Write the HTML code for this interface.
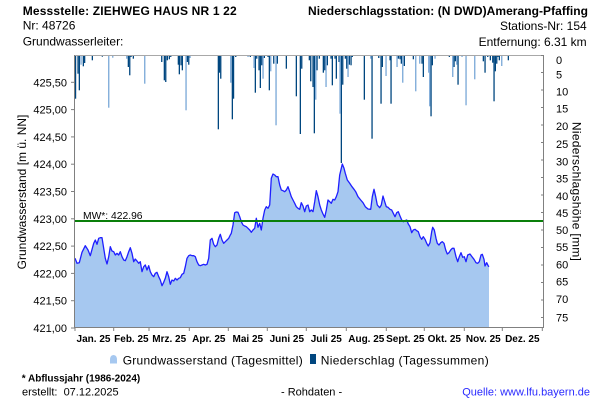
<!DOCTYPE html>
<html><head><meta charset="utf-8">
<style>
html,body{margin:0;padding:0;background:#fff;}
svg{display:block;font-family:"Liberation Sans",Arial,sans-serif;}
</style></head>
<body>
<svg width="600" height="400" viewBox="0 0 600 400" xmlns="http://www.w3.org/2000/svg">
<rect width="600" height="400" fill="#fff"/>
<!-- header -->
<text x="22.7" y="15" font-size="12" font-weight="bold" textLength="214" lengthAdjust="spacing">Messstelle: ZIEHWEG HAUS NR 1 22</text>
<text x="22.7" y="29.3" font-size="12">Nr: 48726</text>
<text x="22.7" y="45.7" font-size="12">Grundwasserleiter:</text>
<text x="308" y="15" font-size="12" font-weight="bold" textLength="280" lengthAdjust="spacing">Niederschlagsstation: (N DWD)Amerang-Pfaffing</text>
<text x="586.7" y="30" font-size="12" text-anchor="end">Stations-Nr: 154</text>
<text x="586.7" y="46" font-size="12" text-anchor="end">Entfernung: 6.31 km</text>

<!-- groundwater area -->
<path fill="#a6c8f0" stroke="none" d="M75,328 L75,258.3 L77,263.3 L79.3,262.7 L82,252.3 L85.3,245.7 L88,250 L90.3,255.7 L93.7,243.3 L95.3,240 L97,244.3 L98.7,238.3 L100.3,237.7 L102,237.7 L103.7,248.3 L105.3,258.3 L107,264 L108.7,256.7 L110.3,246.7 L112,251 L113.7,251.7 L115.3,255 L117,253.3 L118.7,255 L120.3,251.7 L122,256.7 L123.7,260 L125.3,260.7 L127,256.7 L128.7,251.7 L130.3,247.7 L132,253.3 L133.7,261.7 L135.3,259 L137,261 L138.7,263.3 L140.3,261.7 L142,271.7 L143.7,266.7 L145.3,265 L147,270 L148.7,265.7 L150.3,271.7 L152,275 L153.7,276.7 L155.3,273.3 L157,272.3 L158.7,276.7 L160.3,280 L162,285.7 L163.7,282.3 L165.3,278.3 L167,271.7 L168.7,276.7 L170.3,284.3 L172,280 L173.7,281 L175.3,278.3 L177,280 L178.7,278.3 L180.3,277.7 L182,274.3 L183.7,273.3 L185.3,266.7 L187,258.3 L188.7,255.7 L190.3,255 L192,255.7 L193.7,255.7 L195.3,256.7 L197,261.7 L198.7,265 L200.3,265.7 L202,265 L203.7,264.3 L205.3,265 L207,264.3 L208.7,258.3 L210.3,240 L212,238.3 L213.7,244.3 L215.3,246.7 L217,245 L218.7,238.3 L220.3,234.3 L222,240 L223.7,243.3 L225.3,241.7 L227,240 L228.7,238.3 L230.3,235 L231.3,233.3 L233,225 L234.7,212.7 L236.3,212 L238,212.3 L239.7,216.7 L241.3,221.7 L243,225 L244.7,226 L246.3,226.7 L248,228.3 L249.7,230 L251.3,232.3 L253,230 L254.7,228.3 L256.3,218.3 L258,227.3 L259.7,223.3 L261.3,230 L263,218.3 L264.7,210 L266.3,206.7 L268,208.3 L269.7,205 L271.3,178.3 L273,174 L274.7,175 L276.3,176.7 L278,176.7 L279.7,185 L281.3,190 L283,190.7 L284.7,191.7 L286.3,190 L288,186.7 L289.7,191.7 L291.3,196.7 L293,200 L294.7,203.3 L296.3,206.7 L298,208.3 L299.7,209.3 L301.3,202.7 L303,206 L304.7,211.7 L306.3,206 L308,205 L309.7,211.7 L311.3,210 L313,211.7 L314.7,201.7 L316.3,190.7 L318,196.7 L319.7,205 L321.3,210 L323,214 L324.7,217.3 L326.3,210 L328,200 L329.7,201.7 L331.3,203.3 L333,199.3 L334.7,200 L336.3,196.7 L338,191.7 L339.7,175 L341.3,168.3 L342.3,164 L344,168.3 L345.3,173.3 L347.3,180 L349.7,183.3 L352,186.7 L354,189.3 L355.7,191.7 L358,196.7 L360.7,200 L363,202.7 L365.3,206.7 L368,209 L370.7,209.3 L372.3,196.7 L374,189.3 L375.7,196.7 L377.3,205 L379.7,207.7 L381.3,205 L383,196 L384.7,201.7 L386.3,206.7 L388,207.3 L390,209.3 L391.7,210 L393.3,213.3 L395,216.7 L396.7,212.7 L398.3,211.7 L400,216 L401.7,220 L403.3,221.7 L405,220.7 L406.7,220 L408.3,224 L410,226.7 L411.7,232.7 L413.3,230 L415,229.3 L416.7,230.7 L418.3,231.7 L420,236.7 L421.7,239.3 L423.3,236.7 L425,239.3 L426.7,243.3 L428.3,246 L430,242.7 L431.7,231.7 L432.7,227.3 L434.3,230 L436,238.3 L437.3,243.3 L439,245 L440.7,242.7 L442.3,241.7 L444,243.3 L445.7,250 L447.3,254 L449,252.7 L450.7,250 L452.3,248.3 L454,248.3 L456,256.7 L457.7,261.7 L459.3,256.7 L461,252.7 L462.7,257.3 L464.3,256.7 L466,261.7 L467.7,255 L470,254 L472,256.7 L474,259.3 L476,262.7 L477.7,263.3 L479.3,261.7 L481,255 L482.3,254.3 L484,259.3 L485,266 L486.7,262.7 L488.3,266 L489,266.7 L489,328 Z"/>
<path fill="none" stroke="#1f1fff" stroke-width="1.3" stroke-linejoin="round" d="M75,258.3 L77,263.3 L79.3,262.7 L82,252.3 L85.3,245.7 L88,250 L90.3,255.7 L93.7,243.3 L95.3,240 L97,244.3 L98.7,238.3 L100.3,237.7 L102,237.7 L103.7,248.3 L105.3,258.3 L107,264 L108.7,256.7 L110.3,246.7 L112,251 L113.7,251.7 L115.3,255 L117,253.3 L118.7,255 L120.3,251.7 L122,256.7 L123.7,260 L125.3,260.7 L127,256.7 L128.7,251.7 L130.3,247.7 L132,253.3 L133.7,261.7 L135.3,259 L137,261 L138.7,263.3 L140.3,261.7 L142,271.7 L143.7,266.7 L145.3,265 L147,270 L148.7,265.7 L150.3,271.7 L152,275 L153.7,276.7 L155.3,273.3 L157,272.3 L158.7,276.7 L160.3,280 L162,285.7 L163.7,282.3 L165.3,278.3 L167,271.7 L168.7,276.7 L170.3,284.3 L172,280 L173.7,281 L175.3,278.3 L177,280 L178.7,278.3 L180.3,277.7 L182,274.3 L183.7,273.3 L185.3,266.7 L187,258.3 L188.7,255.7 L190.3,255 L192,255.7 L193.7,255.7 L195.3,256.7 L197,261.7 L198.7,265 L200.3,265.7 L202,265 L203.7,264.3 L205.3,265 L207,264.3 L208.7,258.3 L210.3,240 L212,238.3 L213.7,244.3 L215.3,246.7 L217,245 L218.7,238.3 L220.3,234.3 L222,240 L223.7,243.3 L225.3,241.7 L227,240 L228.7,238.3 L230.3,235 L231.3,233.3 L233,225 L234.7,212.7 L236.3,212 L238,212.3 L239.7,216.7 L241.3,221.7 L243,225 L244.7,226 L246.3,226.7 L248,228.3 L249.7,230 L251.3,232.3 L253,230 L254.7,228.3 L256.3,218.3 L258,227.3 L259.7,223.3 L261.3,230 L263,218.3 L264.7,210 L266.3,206.7 L268,208.3 L269.7,205 L271.3,178.3 L273,174 L274.7,175 L276.3,176.7 L278,176.7 L279.7,185 L281.3,190 L283,190.7 L284.7,191.7 L286.3,190 L288,186.7 L289.7,191.7 L291.3,196.7 L293,200 L294.7,203.3 L296.3,206.7 L298,208.3 L299.7,209.3 L301.3,202.7 L303,206 L304.7,211.7 L306.3,206 L308,205 L309.7,211.7 L311.3,210 L313,211.7 L314.7,201.7 L316.3,190.7 L318,196.7 L319.7,205 L321.3,210 L323,214 L324.7,217.3 L326.3,210 L328,200 L329.7,201.7 L331.3,203.3 L333,199.3 L334.7,200 L336.3,196.7 L338,191.7 L339.7,175 L341.3,168.3 L342.3,164 L344,168.3 L345.3,173.3 L347.3,180 L349.7,183.3 L352,186.7 L354,189.3 L355.7,191.7 L358,196.7 L360.7,200 L363,202.7 L365.3,206.7 L368,209 L370.7,209.3 L372.3,196.7 L374,189.3 L375.7,196.7 L377.3,205 L379.7,207.7 L381.3,205 L383,196 L384.7,201.7 L386.3,206.7 L388,207.3 L390,209.3 L391.7,210 L393.3,213.3 L395,216.7 L396.7,212.7 L398.3,211.7 L400,216 L401.7,220 L403.3,221.7 L405,220.7 L406.7,220 L408.3,224 L410,226.7 L411.7,232.7 L413.3,230 L415,229.3 L416.7,230.7 L418.3,231.7 L420,236.7 L421.7,239.3 L423.3,236.7 L425,239.3 L426.7,243.3 L428.3,246 L430,242.7 L431.7,231.7 L432.7,227.3 L434.3,230 L436,238.3 L437.3,243.3 L439,245 L440.7,242.7 L442.3,241.7 L444,243.3 L445.7,250 L447.3,254 L449,252.7 L450.7,250 L452.3,248.3 L454,248.3 L456,256.7 L457.7,261.7 L459.3,256.7 L461,252.7 L462.7,257.3 L464.3,256.7 L466,261.7 L467.7,255 L470,254 L472,256.7 L474,259.3 L476,262.7 L477.7,263.3 L479.3,261.7 L481,255 L482.3,254.3 L484,259.3 L485,266 L486.7,262.7 L488.3,266 L489,266.7"/>

<!-- mean line -->
<line x1="75" y1="221" x2="544" y2="221" stroke="#0a7f0a" stroke-width="2"/>
<text x="83" y="219" font-size="10.3">MW*: 422.96</text>

<!-- precipitation bars -->
<g fill="#00467f">
<rect x="74.8" y="55" width="1.4" height="43.7"/>
<rect x="77.4" y="55" width="1.3" height="18.7"/>
<rect x="78.7" y="55" width="1.3" height="35.3"/>
<rect x="82.7" y="55" width="1.3" height="11.3"/>
<rect x="84" y="55" width="1.3" height="8"/>
<rect x="91.7" y="55" width="1.3" height="5.3"/>
<rect x="101.7" y="55" width="1.3" height="1.7"/>
<rect x="127.7" y="55" width="1.3" height="12"/>
<rect x="129.1" y="55" width="1.3" height="20.3"/>
<rect x="130.4" y="55" width="1.3" height="2"/>
<rect x="132.7" y="55" width="1.3" height="3.7"/>
<rect x="161.1" y="55" width="1.3" height="7"/>
<rect x="163.7" y="55" width="1.3" height="25.3"/>
<rect x="165.1" y="55" width="1.3" height="27"/>
<rect x="166.7" y="55" width="1.3" height="5.3"/>
<rect x="168.7" y="55" width="1.3" height="4.3"/>
<rect x="170.1" y="55" width="1.3" height="2"/>
<rect x="177.7" y="55" width="1.3" height="9.7"/>
<rect x="178.7" y="55" width="1.3" height="19.3"/>
<rect x="180.4" y="55" width="1.3" height="10.3"/>
<rect x="181.7" y="55" width="1.3" height="15.3"/>
<rect x="186.7" y="55" width="1.3" height="7"/>
<rect x="188.1" y="55" width="1.3" height="9.7"/>
<rect x="217.7" y="55" width="1.3" height="74.3"/>
<rect x="218.9" y="55" width="1.3" height="17.7"/>
<rect x="220.1" y="55" width="1.3" height="23.7"/>
<rect x="231.7" y="55" width="1.3" height="64.3"/>
<rect x="232.9" y="55" width="1.3" height="43.7"/>
<rect x="235.1" y="55" width="1.3" height="2"/>
<rect x="249.7" y="55" width="1.3" height="2"/>
<rect x="254.7" y="55" width="1.3" height="37.7"/>
<rect x="256.1" y="55" width="1.3" height="3.7"/>
<rect x="258.4" y="55" width="1.3" height="15.3"/>
<rect x="259.7" y="55" width="1.3" height="33"/>
<rect x="261.1" y="55" width="1.3" height="10.3"/>
<rect x="263.7" y="55" width="1.3" height="3"/>
<rect x="267.4" y="55" width="1.3" height="2"/>
<rect x="268.7" y="55" width="1.3" height="35.3"/>
<rect x="273.1" y="55" width="1.3" height="8.7"/>
<rect x="276.7" y="55" width="1.3" height="8.7"/>
<rect x="285.7" y="55" width="1.3" height="13.7"/>
<rect x="295.7" y="55" width="1.3" height="41.3"/>
<rect x="299.7" y="55" width="1.3" height="79"/>
<rect x="301.1" y="55" width="1.3" height="13.7"/>
<rect x="308.7" y="55" width="1.3" height="5.3"/>
<rect x="310.1" y="55" width="1.3" height="26.3"/>
<rect x="312.4" y="55" width="1.3" height="32"/>
<rect x="313.7" y="55" width="1.3" height="78.3"/>
<rect x="316.4" y="55" width="1.3" height="15.3"/>
<rect x="318.7" y="55" width="1.3" height="3.7"/>
<rect x="322.7" y="55" width="1.3" height="17.7"/>
<rect x="324.1" y="55" width="1.3" height="15.3"/>
<rect x="326.7" y="55" width="1.3" height="10.3"/>
<rect x="330.4" y="55" width="1.3" height="3.7"/>
<rect x="331.7" y="55" width="1.3" height="30.3"/>
<rect x="334.4" y="55" width="1.3" height="3.7"/>
<rect x="335.7" y="55" width="1.3" height="23.7"/>
<rect x="338.4" y="55" width="1.3" height="7"/>
<rect x="340.7" y="55" width="1.3" height="108"/>
<rect x="342.1" y="55" width="1.3" height="29.7"/>
<rect x="344.7" y="55" width="1.3" height="3.7"/>
<rect x="346.1" y="55" width="1.3" height="13.7"/>
<rect x="348.7" y="55" width="1.3" height="9.7"/>
<rect x="350.4" y="55" width="1.3" height="10.3"/>
<rect x="351.7" y="55" width="1.3" height="2"/>
<rect x="363.7" y="55" width="1.3" height="44.7"/>
<rect x="371.4" y="55" width="1.3" height="83.7"/>
<rect x="378.1" y="55" width="1.3" height="3"/>
<rect x="380.4" y="55" width="1.3" height="48.7"/>
<rect x="381.7" y="55" width="1.3" height="12"/>
<rect x="389.4" y="55" width="1.3" height="5.3"/>
<rect x="390.4" y="55" width="1.3" height="48.7"/>
<rect x="397.7" y="55" width="1.3" height="3.7"/>
<rect x="399.4" y="55" width="1.3" height="4.3"/>
<rect x="400.7" y="55" width="1.3" height="8.7"/>
<rect x="403.7" y="55" width="1.3" height="11"/>
<rect x="412.7" y="55" width="1.3" height="4.3"/>
<rect x="421.4" y="55" width="1.3" height="8.7"/>
<rect x="422.7" y="55" width="1.3" height="22"/>
<rect x="430.4" y="55" width="1.3" height="61.3"/>
<rect x="431.7" y="55" width="1.3" height="10.3"/>
<rect x="448.7" y="55" width="1.3" height="2"/>
<rect x="453.4" y="55" width="1.3" height="12"/>
<rect x="454.7" y="55" width="1.3" height="6.3"/>
<rect x="457.4" y="55" width="1.3" height="29.7"/>
<rect x="482.7" y="55" width="1.3" height="6.3"/>
<rect x="484.4" y="55" width="1.3" height="17.7"/>
<rect x="487.1" y="55" width="1.3" height="2"/>
<rect x="489.7" y="55" width="1.3" height="5.3"/>
<rect x="492.1" y="55" width="1.3" height="7.7"/>
<rect x="493.4" y="55" width="1.3" height="46.3"/>
<rect x="494.7" y="55" width="1.3" height="16.3"/>
<rect x="496.1" y="55" width="1.3" height="8.7"/>
<rect x="497.4" y="55" width="1.3" height="2"/>
<rect x="498.7" y="55" width="1.3" height="5.3"/>
<rect x="507.7" y="55" width="1.3" height="5.3"/>
</g>
<g fill="#79a7d7">
<rect x="80.4" y="55" width="1.3" height="9.7"/>
<rect x="108.1" y="55" width="1.3" height="52.7"/>
<rect x="112.1" y="55" width="1.3" height="2.7"/>
<rect x="126.1" y="55" width="1.3" height="3.7"/>
<rect x="144.1" y="55" width="1.3" height="28.7"/>
<rect x="185.4" y="55" width="1.3" height="55.3"/>
<rect x="189.4" y="55" width="1.3" height="3"/>
<rect x="230.1" y="55" width="1.3" height="27.7"/>
<rect x="247.4" y="55" width="1.3" height="2"/>
<rect x="253.4" y="55" width="1.3" height="13"/>
<rect x="262.4" y="55" width="1.3" height="23.7"/>
<rect x="270.1" y="55" width="1.3" height="16.3"/>
<rect x="275.4" y="55" width="1.3" height="70.3"/>
<rect x="315.1" y="55" width="1.3" height="44.7"/>
<rect x="325.4" y="55" width="1.3" height="32"/>
<rect x="339.4" y="55" width="1.3" height="58.7"/>
<rect x="347.4" y="55" width="1.3" height="22"/>
<rect x="370.1" y="55" width="1.3" height="3.7"/>
<rect x="385.4" y="55" width="1.3" height="21"/>
<rect x="396.4" y="55" width="1.3" height="12"/>
<rect x="402.1" y="55" width="1.3" height="27.7"/>
<rect x="415.1" y="55" width="1.3" height="36.3"/>
<rect x="419.1" y="55" width="1.3" height="8.7"/>
<rect x="428.1" y="55" width="1.3" height="17.7"/>
<rect x="429.1" y="55" width="1.3" height="51.3"/>
<rect x="434.4" y="55" width="1.3" height="3.7"/>
<rect x="452.1" y="55" width="1.3" height="22"/>
<rect x="456.1" y="55" width="1.3" height="9.7"/>
<rect x="461.4" y="55" width="1.3" height="2"/>
<rect x="465.4" y="55" width="1.3" height="50.3"/>
<rect x="474.1" y="55" width="1.3" height="24.3"/>
<rect x="501.1" y="55" width="1.3" height="11"/>
</g>

<!-- frame / axes -->
<line x1="75" y1="55.5" x2="544" y2="55.5" stroke="#a8a8a8" stroke-width="1"/>
<line x1="74.5" y1="55" x2="74.5" y2="328" stroke="#808080" stroke-width="1"/>
<line x1="543.5" y1="55" x2="543.5" y2="328" stroke="#808080" stroke-width="1"/>
<line x1="74" y1="327.5" x2="544" y2="327.5" stroke="#808080" stroke-width="1"/>

<!-- left ticks & labels -->
<g stroke="#808080" stroke-width="1">
<line x1="71" y1="328" x2="75" y2="328"/><line x1="71" y1="300.7" x2="75" y2="300.7"/><line x1="71" y1="273.4" x2="75" y2="273.4"/><line x1="71" y1="246.1" x2="75" y2="246.1"/><line x1="71" y1="218.8" x2="75" y2="218.8"/><line x1="71" y1="191.5" x2="75" y2="191.5"/><line x1="71" y1="164.2" x2="75" y2="164.2"/><line x1="71" y1="136.9" x2="75" y2="136.9"/><line x1="71" y1="109.6" x2="75" y2="109.6"/><line x1="71" y1="82.3" x2="75" y2="82.3"/>
</g>
<g font-size="11" text-anchor="end" fill="#000">
<text x="67" y="332">421,00</text>
<text x="67" y="304.7">421,50</text>
<text x="67" y="277.4">422,00</text>
<text x="67" y="250.1">422,50</text>
<text x="67" y="222.8">423,00</text>
<text x="67" y="195.5">423,50</text>
<text x="67" y="168.2">424,00</text>
<text x="67" y="140.9">424,50</text>
<text x="67" y="113.6">425,00</text>
<text x="67" y="86.3">425,50</text>
</g>
<text transform="translate(26,192) rotate(-90)" font-size="12" text-anchor="middle">Grundwasserstand [m ü. NN]</text>

<!-- right ticks & labels -->
<g stroke="#808080" stroke-width="1">
<line x1="541" y1="55.5" x2="544" y2="55.5"/><line x1="541" y1="72.5" x2="544" y2="72.5"/><line x1="541" y1="90" x2="544" y2="90"/><line x1="541" y1="107.5" x2="544" y2="107.5"/><line x1="541" y1="125" x2="544" y2="125"/><line x1="541" y1="142.5" x2="544" y2="142.5"/><line x1="541" y1="160" x2="544" y2="160"/><line x1="541" y1="177.5" x2="544" y2="177.5"/><line x1="541" y1="195" x2="544" y2="195"/><line x1="541" y1="212.5" x2="544" y2="212.5"/><line x1="541" y1="230" x2="544" y2="230"/><line x1="541" y1="247.5" x2="544" y2="247.5"/><line x1="541" y1="265" x2="544" y2="265"/><line x1="541" y1="282.5" x2="544" y2="282.5"/><line x1="541" y1="300" x2="544" y2="300"/><line x1="541" y1="317.5" x2="544" y2="317.5"/>
</g>
<g font-size="11" fill="#000">
<text x="556" y="64">0</text>
<text x="556" y="78.3">5</text>
<text x="556" y="95.7">10</text>
<text x="556" y="112.3">15</text>
<text x="556" y="130">20</text>
<text x="556" y="148">25</text>
<text x="556" y="165.5">30</text>
<text x="556" y="182.3">35</text>
<text x="556" y="200">40</text>
<text x="556" y="217">45</text>
<text x="556" y="234">50</text>
<text x="556" y="251">55</text>
<text x="556" y="268.3">60</text>
<text x="556" y="285.5">65</text>
<text x="556" y="303">70</text>
<text x="556" y="321.3">75</text>
</g>
<text transform="translate(572.5,191.4) rotate(90)" font-size="12" text-anchor="middle" textLength="139" lengthAdjust="spacing">Niederschlagshöhe [mm]</text>

<!-- x ticks & labels -->
<g stroke="#808080" stroke-width="1">
<line x1="75" y1="328" x2="75" y2="331"/><line x1="113.7" y1="328" x2="113.7" y2="331"/><line x1="149" y1="328" x2="149" y2="331"/><line x1="189.3" y1="328" x2="189.3" y2="331"/><line x1="228.3" y1="328" x2="228.3" y2="331"/><line x1="267.3" y1="328" x2="267.3" y2="331"/><line x1="306.3" y1="328" x2="306.3" y2="331"/><line x1="346.3" y1="328" x2="346.3" y2="331"/><line x1="386.3" y1="328" x2="386.3" y2="331"/><line x1="424.3" y1="328" x2="424.3" y2="331"/><line x1="464.3" y1="328" x2="464.3" y2="331"/><line x1="502.3" y1="328" x2="502.3" y2="331"/><line x1="542.3" y1="328" x2="542.3" y2="331"/>
</g>
<g font-size="10" font-weight="bold" text-anchor="middle" fill="#000">
<text x="93.5" y="342">Jan. 25</text>
<text x="131.4" y="342">Feb. 25</text>
<text x="169.2" y="342">Mrz. 25</text>
<text x="208.8" y="342">Apr. 25</text>
<text x="247.8" y="342">Mai 25</text>
<text x="286.8" y="342">Juni 25</text>
<text x="326.3" y="342">Juli 25</text>
<text x="366.3" y="342">Aug. 25</text>
<text x="405.3" y="342">Sept. 25</text>
<text x="444.3" y="342">Okt. 25</text>
<text x="483.3" y="342">Nov. 25</text>
<text x="522.3" y="342">Dez. 25</text>
</g>

<!-- legend -->
<path d="M110,363.5 L110,360 Q110,355 113.5,355 Q117,355 117,360 L117,363.5 Z" fill="#a6c8f0"/>
<text x="122.7" y="364.3" font-size="12" textLength="180" lengthAdjust="spacing">Grundwasserstand (Tagesmittel)</text>
<rect x="310" y="354" width="6" height="10" fill="#00467f"/>
<text x="320.7" y="364.3" font-size="12" textLength="168" lengthAdjust="spacing">Niederschlag (Tagessummen)</text>

<!-- footer -->
<text x="21.7" y="381.5" font-size="10" font-weight="bold">* Abflussjahr (1986-2024)</text>
<text x="22" y="395.5" font-size="11" xml:space="preserve">erstellt:  07.12.2025</text>
<text x="281" y="395.5" font-size="11">- Rohdaten -</text>
<text x="590" y="395.5" font-size="11" text-anchor="end" fill="#2a2aff">Quelle: www.lfu.bayern.de</text>
</svg>
</body></html>
